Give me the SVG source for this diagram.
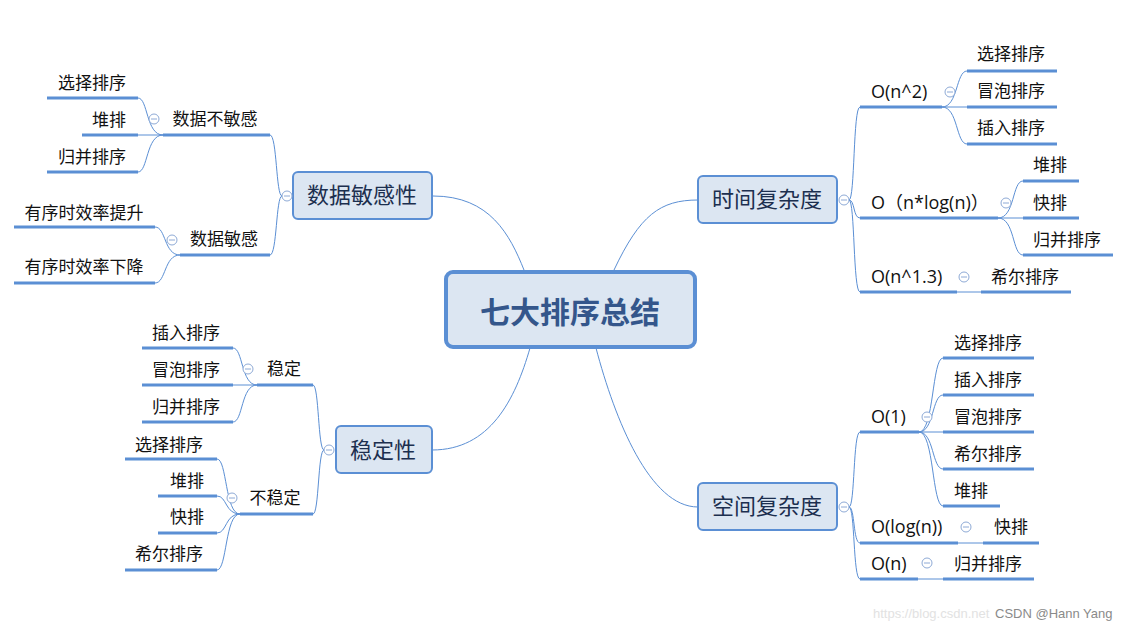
<svg xmlns="http://www.w3.org/2000/svg" width="1134" height="631" viewBox="0 0 1134 631">
<style>
.bg{fill:#ffffff}
.con{fill:none;stroke:#5b8fd4;stroke-width:1}
.ul{stroke:#5b8fd4;stroke-width:3;fill:none}
.box{fill:#dce6f2;stroke:#5b8fd4;stroke-width:2}
.root{fill:#dce6f2;stroke:#5b8fd4;stroke-width:4}
.t{font-family:"Noto Sans CJK SC","Open Sans",sans-serif;font-size:17px;fill:#111;text-anchor:middle}
.l{font-family:"Open Sans","Noto Sans CJK SC",sans-serif;font-size:18px;fill:#111;text-anchor:start}
.m{font-family:"Noto Sans CJK SC",sans-serif;font-size:22px;fill:#1c2f4f;text-anchor:middle}
.r{font-family:"Noto Sans CJK SC",sans-serif;font-size:30px;font-weight:bold;fill:#34568b;text-anchor:middle}
.c circle{fill:#fff;stroke:#8eaad6;stroke-width:1}
.c line{stroke:#8eaad6;stroke-width:1}
.wm{font-family:"Liberation Sans",Arial,sans-serif;font-size:13px}
</style>
<rect class="bg" x="0" y="0" width="1134" height="631"/>

<g id="connectors">
<path class="con" d="M433,196 C490,196 510,235 524,270"/>
<path class="con" d="M614,270 C640,215 660,200 698,200"/>
<path class="con" d="M432,450 C490,450 515,400 530,348"/>
<path class="con" d="M596,348 C615,420 650,507 698,507"/>
<path class="con" d="M282,196 C276,196 277,135 270,135"/>
<path class="con" d="M282,196 C276,196 277,255 270,255"/>
<path class="con" d="M163,135 C146,135 148,98 138,98"/>
<path class="con" d="M163,135 L138,135"/>
<path class="con" d="M163,135 C146,135 148,172 138,172"/>
<path class="con" d="M180,255 C164,255 166,227 155,227"/>
<path class="con" d="M180,255 C164,255 166,283 155,283"/>
<path class="con" d="M849,200 C855,200 853,107 860,107"/>
<path class="con" d="M849,200 C855,200 853,218 860,218"/>
<path class="con" d="M849,200 C855,200 853,292 860,292"/>
<path class="con" d="M942,107 C958,107 956,71 967,71"/>
<path class="con" d="M942,107 L967,107"/>
<path class="con" d="M942,107 C958,107 956,144 967,144"/>
<path class="con" d="M998,218 C1015,218 1012,181 1023,181"/>
<path class="con" d="M998,218 L1023,218"/>
<path class="con" d="M998,218 C1015,218 1012,255 1023,255"/>
<path class="con" d="M957,292 L981,292"/>
<path class="con" d="M324,450 C318,450 319,385 313,385"/>
<path class="con" d="M324,450 C318,450 319,514 313,514"/>
<path class="con" d="M257,385 C241,385 243,348 233,348"/>
<path class="con" d="M257,385 L233,385"/>
<path class="con" d="M257,385 C241,385 243,422 233,422"/>
<path class="con" d="M240,514 C225,514 227,459 217,459"/>
<path class="con" d="M240,514 C225,514 227,496 217,496"/>
<path class="con" d="M240,514 C225,514 227,533 217,533"/>
<path class="con" d="M240,514 C225,514 227,570 217,570"/>
<path class="con" d="M849,507 C855,507 853,432 860,432"/>
<path class="con" d="M849,507 C855,507 853,543 860,543"/>
<path class="con" d="M849,507 C855,507 853,579 860,579"/>
<path class="con" d="M919,432 C934,432 932,358 943,358"/>
<path class="con" d="M919,432 C934,432 932,395 943,395"/>
<path class="con" d="M919,432 L943,432"/>
<path class="con" d="M919,432 C934,432 932,469 943,469"/>
<path class="con" d="M919,432 C934,432 932,506 943,506"/>
<path class="con" d="M958,543 L983,543"/>
<path class="con" d="M918,579 L943,579"/>
</g>

<g id="root">
<rect class="root" x="446" y="272" width="249" height="75" rx="7"/>
<text class="r" x="570" y="323">七大排序总结</text>
</g>

<g id="n-sensitivity">
<rect class="box" x="293" y="172" width="139" height="47" rx="5"/>
<text class="m" x="362" y="203">数据敏感性</text>
<g class="c"><circle cx="287" cy="196" r="5"/><line x1="284" y1="196" x2="290" y2="196"/></g>
</g>
<g id="n-insensitive">
<text class="t" x="215" y="125">数据不敏感</text>
<line class="ul" x1="163" y1="135" x2="270" y2="135"/>
<g class="c"><circle cx="154" cy="119" r="5"/><line x1="151" y1="119" x2="157" y2="119"/></g>
</g>
<g id="n-a1"><text class="t" x="92" y="89">选择排序</text><line class="ul" x1="47" y1="98" x2="138" y2="98"/></g>
<g id="n-a2"><text class="t" x="109" y="126">堆排</text><line class="ul" x1="82" y1="135" x2="138" y2="135"/></g>
<g id="n-a3"><text class="t" x="92" y="163">归并排序</text><line class="ul" x1="47" y1="172" x2="138" y2="172"/></g>
<g id="n-sensitive">
<text class="t" x="224" y="245">数据敏感</text>
<line class="ul" x1="180" y1="255" x2="270" y2="255"/>
<g class="c"><circle cx="172" cy="240" r="5"/><line x1="169" y1="240" x2="175" y2="240"/></g>
</g>
<g id="n-b1"><text class="t" x="84" y="219">有序时效率提升</text><line class="ul" x1="14" y1="227" x2="155" y2="227"/></g>
<g id="n-b2"><text class="t" x="84" y="273">有序时效率下降</text><line class="ul" x1="14" y1="283" x2="155" y2="283"/></g>

<g id="n-time">
<rect class="box" x="698" y="176" width="139" height="47" rx="5"/>
<text class="m" x="767" y="207">时间复杂度</text>
<g class="c"><circle cx="844" cy="200" r="5"/><line x1="841" y1="200" x2="847" y2="200"/></g>
</g>
<g id="n-on2">
<text class="l" x="871" y="98">O(n^2)</text>
<line class="ul" x1="860" y1="107" x2="942" y2="107"/>
<g class="c"><circle cx="950" cy="92" r="5"/><line x1="947" y1="92" x2="953" y2="92"/></g>
</g>
<g id="n-c1"><text class="t" x="1011" y="60">选择排序</text><line class="ul" x1="967" y1="71" x2="1057" y2="71"/></g>
<g id="n-c2"><text class="t" x="1011" y="97">冒泡排序</text><line class="ul" x1="967" y1="107" x2="1057" y2="107"/></g>
<g id="n-c3"><text class="t" x="1011" y="134">插入排序</text><line class="ul" x1="967" y1="144" x2="1057" y2="144"/></g>
<g id="n-onlogn">
<text class="l" x="871" y="209">O（n*log(n)）</text>
<line class="ul" x1="860" y1="218" x2="998" y2="218"/>
<g class="c"><circle cx="1006" cy="203" r="5"/><line x1="1003" y1="203" x2="1009" y2="203"/></g>
</g>
<g id="n-d1"><text class="t" x="1050" y="171">堆排</text><line class="ul" x1="1023" y1="181" x2="1079" y2="181"/></g>
<g id="n-d2"><text class="t" x="1050" y="209">快排</text><line class="ul" x1="1023" y1="218" x2="1079" y2="218"/></g>
<g id="n-d3"><text class="t" x="1067" y="246">归并排序</text><line class="ul" x1="1023" y1="255" x2="1113" y2="255"/></g>
<g id="n-on13">
<text class="l" x="871" y="283">O(n^1.3)</text>
<line class="ul" x1="860" y1="292" x2="957" y2="292"/>
<g class="c"><circle cx="964" cy="277" r="5"/><line x1="961" y1="277" x2="967" y2="277"/></g>
</g>
<g id="n-e1"><text class="t" x="1025" y="283">希尔排序</text><line class="ul" x1="981" y1="292" x2="1071" y2="292"/></g>

<g id="n-stability">
<rect class="box" x="336" y="426" width="96" height="47" rx="5"/>
<text class="m" x="383" y="458">稳定性</text>
<g class="c"><circle cx="329" cy="450" r="5"/><line x1="326" y1="450" x2="332" y2="450"/></g>
</g>
<g id="n-stable">
<text class="t" x="284" y="375">稳定</text>
<line class="ul" x1="257" y1="385" x2="313" y2="385"/>
<g class="c"><circle cx="248" cy="369" r="5"/><line x1="245" y1="369" x2="251" y2="369"/></g>
</g>
<g id="n-f1"><text class="t" x="186" y="339">插入排序</text><line class="ul" x1="142" y1="348" x2="233" y2="348"/></g>
<g id="n-f2"><text class="t" x="186" y="376">冒泡排序</text><line class="ul" x1="142" y1="385" x2="233" y2="385"/></g>
<g id="n-f3"><text class="t" x="186" y="413">归并排序</text><line class="ul" x1="142" y1="422" x2="233" y2="422"/></g>
<g id="n-unstable">
<text class="t" x="275" y="504">不稳定</text>
<line class="ul" x1="240" y1="514" x2="313" y2="514"/>
<g class="c"><circle cx="232" cy="498" r="5"/><line x1="229" y1="498" x2="235" y2="498"/></g>
</g>
<g id="n-g1"><text class="t" x="169" y="451">选择排序</text><line class="ul" x1="125" y1="459" x2="217" y2="459"/></g>
<g id="n-g2"><text class="t" x="187" y="487">堆排</text><line class="ul" x1="158" y1="496" x2="217" y2="496"/></g>
<g id="n-g3"><text class="t" x="187" y="523">快排</text><line class="ul" x1="158" y1="533" x2="217" y2="533"/></g>
<g id="n-g4"><text class="t" x="169" y="560">希尔排序</text><line class="ul" x1="125" y1="570" x2="217" y2="570"/></g>

<g id="n-space">
<rect class="box" x="698" y="483" width="139" height="47" rx="5"/>
<text class="m" x="767" y="514">空间复杂度</text>
<g class="c"><circle cx="844" cy="507" r="5"/><line x1="841" y1="507" x2="847" y2="507"/></g>
</g>
<g id="n-o1">
<text class="l" x="871" y="423">O(1)</text>
<line class="ul" x1="860" y1="432" x2="919" y2="432"/>
<g class="c"><circle cx="927" cy="417" r="5"/><line x1="924" y1="417" x2="930" y2="417"/></g>
</g>
<g id="n-h1"><text class="t" x="988" y="349">选择排序</text><line class="ul" x1="943" y1="358" x2="1034" y2="358"/></g>
<g id="n-h2"><text class="t" x="988" y="386">插入排序</text><line class="ul" x1="943" y1="395" x2="1034" y2="395"/></g>
<g id="n-h3"><text class="t" x="988" y="423">冒泡排序</text><line class="ul" x1="943" y1="432" x2="1034" y2="432"/></g>
<g id="n-h4"><text class="t" x="988" y="460">希尔排序</text><line class="ul" x1="943" y1="469" x2="1034" y2="469"/></g>
<g id="n-h5"><text class="t" x="971" y="497">堆排</text><line class="ul" x1="943" y1="506" x2="1000" y2="506"/></g>
<g id="n-ologn">
<text class="l" x="871" y="533">O(log(n))</text>
<line class="ul" x1="860" y1="543" x2="958" y2="543"/>
<g class="c"><circle cx="966" cy="527" r="5"/><line x1="963" y1="527" x2="969" y2="527"/></g>
</g>
<g id="n-i1"><text class="t" x="1011" y="533">快排</text><line class="ul" x1="983" y1="543" x2="1039" y2="543"/></g>
<g id="n-on">
<text class="l" x="871" y="570">O(n)</text>
<line class="ul" x1="860" y1="579" x2="918" y2="579"/>
<g class="c"><circle cx="927" cy="563" r="5"/><line x1="924" y1="563" x2="930" y2="563"/></g>
</g>
<g id="n-j1"><text class="t" x="988" y="570">归并排序</text><line class="ul" x1="943" y1="579" x2="1034" y2="579"/></g>

<g id="watermark">
<text class="wm" x="873" y="618" fill="#e2e2e2">https://blog.csdn.net</text>
<text class="wm" x="995" y="618" fill="#8a8a8a">CSDN @Hann Yang</text>
</g>
</svg>
